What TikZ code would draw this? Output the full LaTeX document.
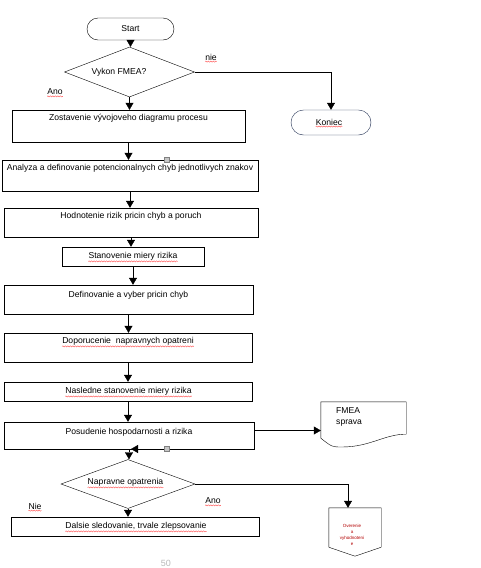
\documentclass[tikz,border=0pt]{standalone}
\usepackage{fontspec}
\setmainfont{Liberation Sans}
\usetikzlibrary{arrows.meta,shapes.geometric,shapes.misc,positioning,decorations.pathmorphing}
\definecolor{navy}{RGB}{30,45,80}
\tikzset{>={Triangle[width=8pt,length=7pt]}, % filled arrow heads
every node/.style={font=\fontsize{8.6}{10}\selectfont}, % small sans text everywhere
line width=1pt,
term/.style={draw, rounded rectangle, inner sep=0pt}, % start / end
decision/.style={draw, diamond, inner sep=0pt},
procbox/.style={draw, rectangle, inner sep=0pt},
txt/.style={inner sep=0pt},
handle/.style={draw=gray, fill=gray!45, line width=0.4pt, minimum size=5pt, inner sep=0pt},
spell/.style={draw=red!75, line width=0.35pt, decorate, decoration={snake, amplitude=0.6pt, segment length=2.5pt}},
}
\begin{document}
\begin{tikzpicture}[x=1pt,y=-1pt]
\useasboundingbox (0,0) rectangle (481,568);
% top part
\node[term, minimum width=87, minimum height=22] (start) at (130.5,29) {Start};
\node[decision, minimum width=130, minimum height=50] (d1) at (129.5,72) {};
\node[txt] (q1) at (119,72) {Vykon FMEA?};
\node[term, draw=navy, minimum width=80, minimum height=25] (kon) at (331,122.5) {};
\node[txt] (tk) at (329,122) {Koniec};
\node[txt] (nie1) at (211,57) {nie};
\node[txt] (ano1) at (55,92) {Ano};
% process boxes
\node[procbox, minimum width=233, minimum height=32] (b1) at (128.5,126) {};
\node[txt, below=4pt of b1.north] (t1) {Zostavenie vývojoveho diagramu procesu};
\node[procbox, minimum width=256, minimum height=31] (b2) at (130,175.5) {};
\node[txt, below=4pt of b2.north] (t2) {Analyza a definovanie potencionalnych chyb jednotlivych znakov};
\node[procbox, minimum width=254, minimum height=29] (b3) at (131,222.5) {};
\node[txt, below=4pt of b3.north] (t3) {Hodnotenie rizik pricin chyb a poruch};
\node[procbox, minimum width=142, minimum height=19] (b4) at (133,256.5) {};
\node[txt] (t4) at (133,256) {Stanovenie miery rizika};
\node[procbox, minimum width=249, minimum height=29] (b5) at (128.5,299.5) {};
\node[txt, below=6pt of b5.north] (t5) {Definovanie a vyber pricin chyb};
\node[procbox, minimum width=248, minimum height=29] (b6) at (128,347.5) {};
\node[txt, below=4pt of b6.north] (t6) {Doporucenie\ \ napravnych opatreni};
\node[procbox, minimum width=248, minimum height=19] (b7) at (128,391.5) {};
\node[txt] (t7) at (128.5,391) {Nasledne stanovenie miery rizika};
\node[procbox, minimum width=250, minimum height=27] (b8) at (129,435.5) {};
\node[txt, below=6pt of b8.north] (t8) {Posudenie hospodarnosti a rizika};
% lower decision
\node[decision, minimum width=134, minimum height=49] (d2) at (128,484) {};
\node[txt] (q2) at (125.5,482) {Napravne opatrenia};
\node[txt] (nie2) at (35,506) {Nie};
\node[txt] (ano2) at (213,501) {Ano};
\node[procbox, minimum width=248, minimum height=19] (b9) at (135,526.5) {};
\node[txt] (t9) at (136,526) {Dalsie sledovanie, trvale zlepsovanie};
% document and off-page reference
\node[inner sep=0pt, minimum width=85, minimum height=45] (doc) at (363.5,424.5) {};
\draw (doc.south west) ++(0,-9) -- (doc.north west) -- (doc.north east) -- ([yshift=13pt]doc.south east)
  .. controls (385,434) and (370,447) .. (342,447) .. controls (332,447) .. ([yshift=9pt]doc.south west);
\node[txt, align=left, anchor=north west] (tdoc) at (336,407) {FMEA\\[1pt]sprava};
\node[inner sep=0pt, minimum width=52, minimum height=48] (ref) at (355,532) {};
\draw (ref.north west) -- (ref.north east) -- ([yshift=9pt]ref.south east) -- (ref.south)
  -- ([yshift=9pt]ref.south west) -- cycle;
\node[txt, align=center, text=red!70!black, font=\fontsize{4.5}{6}\selectfont] (tref) at (352,535) {Overenie\\a\\vyhodnoteni\\e};
% connectors
\draw[->] (start.south) -- (start.south |- d1.north);
\draw[->] (d1.south) -- (d1.south |- b1.north);
\draw[->] (d1.east) -| (kon.north);
\foreach \a/\b in {b1/b2, b2/b3, b3/b4, b4/b5, b5/b6, b6/b7, b7/b8, b8/d2, d2/b9}
  \draw[->] (\a.south) -- (\a.south |- \b.north);
\draw[->] ([yshift=5pt]b8.east) -- ([yshift=5pt]b8.east -| doc.west);
\draw[->] (d2.east) -| ([xshift=-7pt]ref.north);
% selection handles
\node[handle] (h1) at (167,160) {};
\node[handle] (h2) at (167,449) {};
\coordinate (hx) at (131,449);
\draw[->] (h2) -- (hx);
% spelling marks
\foreach \n in {tk, nie1, ano1, t4, t6, t7, q2, nie2, ano2, t9}
  \draw[spell] ([yshift=-1.2pt]\n.south west) -- ([yshift=-1.2pt]\n.south east);
\node[text=gray!55, font=\fontsize{9}{10}\selectfont] (pg) at (166,563) {50};
\end{tikzpicture}
\end{document}
